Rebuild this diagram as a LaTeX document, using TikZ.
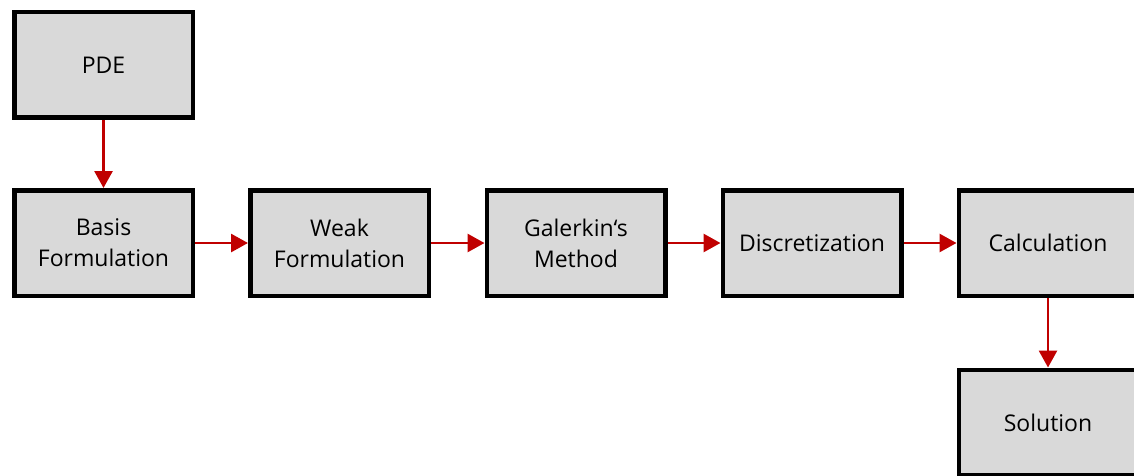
\documentclass[tikz,border=0pt]{standalone}
\usepackage{fontspec}
\setmainfont{Open Sans}
\usetikzlibrary{arrows.meta}
\definecolor{boxgray}{HTML}{D9D9D9}
\definecolor{arrred}{HTML}{C00000}
\begin{document}
\begin{tikzpicture}[x=1pt,y=-1pt,
  stepbox/.style={draw=black,fill=boxgray,line width=4.5pt,minimum width=178.5pt,minimum height=105.5pt,
    inner sep=0pt,align=center,font=\fontsize{23}{31}\selectfont},
  conn/.style={draw=arrred,line width=2.8pt,-{Triangle[width=18pt,length=17pt]}}]
\useasboundingbox (0,0) rectangle (1134,476);
\clip (0,0) rectangle (1134,476);
\node[stepbox] (pde) at (103.5,65) {PDE};
\node[stepbox] (basis) at (103.5,243) {Basis\\Formulation};
\node[stepbox] (weak) at (339.5,243) {Weak\\Formulation};
\node[stepbox] (gal) at (576,243) {Galerkin‘s\\Method};
\node[stepbox] (disc) at (812,243) {Discretization};
\node[stepbox] (calc) at (1048,243) {Calculation};
\node[stepbox] (sol) at (1048,422.5) {Solution};
\draw[conn] (pde.south) -- (basis.north);
\draw[conn] (basis.east) -- (weak.west);
\draw[conn] (weak.east) -- (gal.west);
\draw[conn] (gal.east) -- (disc.west);
\draw[conn] (disc.east) -- (calc.west);
\draw[conn] (calc.south) -- (sol.north);
\end{tikzpicture}
\end{document}
